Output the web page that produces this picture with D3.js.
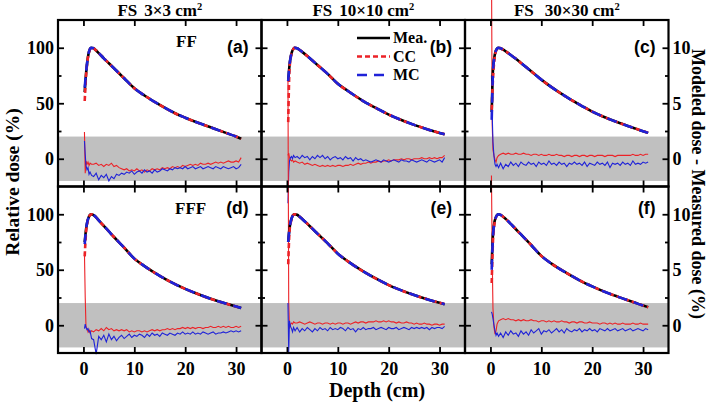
<!DOCTYPE html>
<html><head><meta charset="utf-8">
<script src="https://cdn.jsdelivr.net/npm/d3@7"></script>
<style>
body{margin:0;background:#fff}
svg{display:block}
text{font-family:"Liberation Serif","Times New Roman",serif;font-weight:bold;fill:#000}
</style>
</head><body>
<svg id="chart" width="709" height="404"></svg>
<script>
// ---------- data ----------
const fieldSizes = ["3×3", "10×10", "30×30"];
const beamTypes = ["FF", "FFF"];
const panelLabels = ["(a)", "(b)", "(c)", "(d)", "(e)", "(f)"];
const legendNames = ["Mea.", "CC", "MC"];
const xTicks = [0, 10, 20, 30];
const yTicks = [0, 50, 100];
const yMinorTicks = [25, 75];
const diffTicks = [0, 5, 10];
const diffMinorTicks = [2.5, 7.5];

// depth dose curves (depth in cm, relative dose in %)
const pddDepth = [0.25, 0.5, 0.75, 1, 1.25, 1.5, 2, 2.5, 3, 4, 5, 6, 8, 10, 12, 15, 18, 20, 22, 25, 28, 30, 31];

const meaA = [60, 76, 87, 94.5, 98.5, 100, 99.5, 97.5, 95.2, 90.5, 86, 81.5, 72.5, 63.5, 57, 48.5, 41, 37, 33.3, 28.3, 23.3, 20, 18];
const ccA  = [52, 74, 86.5, 94, 98.3, 100, 99.5, 97.5, 95.2, 90.5, 86, 81.5, 72.5, 63.5, 57, 48.5, 41, 37, 33.3, 28.3, 23.3, 20, 18];
const mcA  = [64, 77, 87.5, 94.8, 98.6, 100, 99.5, 97.5, 95.2, 90.5, 86, 81.5, 72.5, 63.5, 57, 48.5, 41, 37, 33.3, 28.3, 23.3, 20, 18];

const meaB = [70, 84, 92, 96.5, 99, 100, 99.5, 98, 96.3, 92.5, 88.5, 84.5, 76.5, 67.5, 61, 52, 44.5, 39.8, 35.8, 30.5, 26, 23.3, 22];
const ccB  = [33, 80, 91, 96, 98.8, 100, 99.5, 98, 96.3, 92.5, 88.5, 84.5, 76.5, 67.5, 61, 52, 44.5, 39.8, 35.8, 30.5, 26, 23.3, 22];
const mcB  = [70, 84.5, 92, 96.5, 99, 100, 99.5, 98, 96.3, 92.5, 88.5, 84.5, 76.5, 67.5, 61, 52, 44.5, 39.8, 35.8, 30.5, 26, 23.3, 22];

const meaC = [42, 80, 91, 96.5, 99, 100, 99.5, 98.3, 96.8, 93.5, 90, 86.3, 78.8, 71.3, 64.5, 55.5, 47.5, 42.5, 38.3, 32.8, 28, 24.8, 23.3];
const ccC  = [44, 72, 88, 95.5, 98.7, 100, 99.5, 98.3, 96.8, 93.5, 90, 86.3, 78.8, 71.3, 64.5, 55.5, 47.5, 42.5, 38.3, 32.8, 28, 24.8, 23.3];
const mcC  = [35, 78, 90.5, 96.3, 99, 100, 99.5, 98.3, 96.8, 93.5, 90, 86.3, 78.8, 71.3, 64.5, 55.5, 47.5, 42.5, 38.3, 32.8, 28, 24.8, 23.3];

const meaD = [75, 86, 93, 97, 99.2, 100, 99.3, 97.2, 94.5, 89.5, 84.5, 79.5, 70, 60, 53.3, 44.5, 37, 32.8, 29, 23.8, 19.5, 16.8, 15.5];
const ccD  = [62, 83, 92, 96.7, 99, 100, 99.3, 97.2, 94.5, 89.5, 84.5, 79.5, 70, 60, 53.3, 44.5, 37, 32.8, 29, 23.8, 19.5, 16.8, 15.5];
const mcD  = [73, 86, 93, 97, 99.2, 100, 99.3, 97.2, 94.5, 89.5, 84.5, 79.5, 70, 60, 53.3, 44.5, 37, 32.8, 29, 23.8, 19.5, 16.8, 15.5];

const meaE = [75, 87, 93.5, 97.3, 99.4, 100, 99.5, 97.8, 95.8, 91.5, 87, 82.6, 73.8, 64.5, 57.5, 48.5, 40.8, 36.2, 32.3, 27.2, 22.8, 20.2, 19];
const ccE  = [55, 84, 92.5, 97, 99.3, 100, 99.5, 97.8, 95.8, 91.5, 87, 82.6, 73.8, 64.5, 57.5, 48.5, 40.8, 36.2, 32.3, 27.2, 22.8, 20.2, 19];
const mcE  = [75, 87, 93.5, 97.3, 99.4, 100, 99.5, 97.8, 95.8, 91.5, 87, 82.6, 73.8, 64.5, 57.5, 48.5, 40.8, 36.2, 32.3, 27.2, 22.8, 20.2, 19];

const meaF = [55, 82, 92, 96.5, 99, 100, 99.4, 97.8, 95.8, 91.3, 86.5, 81.8, 72.3, 62.5, 55.5, 47, 39.3, 35, 31, 25.8, 21, 17.8, 16.3];
const ccF  = [38, 76, 90, 96, 98.8, 100, 99.4, 97.8, 95.8, 91.3, 86.5, 81.8, 72.3, 62.5, 55.5, 47, 39.3, 35, 31, 25.8, 21, 17.8, 16.3];
const mcF  = [50, 80, 91.5, 96.3, 99, 100, 99.4, 97.8, 95.8, 91.3, 86.5, 81.8, 72.3, 62.5, 55.5, 47, 39.3, 35, 31, 25.8, 21, 17.8, 16.3];

// modeled - measured dose differences (%)
const diffDepth = [0.2, 0.35, 0.5, 0.7, 0.9, 1.1, 1.3, 1.6,
  2, 2.5, 3, 3.5, 4, 4.5, 5, 5.5, 6, 6.5,
  7, 7.5, 8, 8.5, 9, 9.5, 10, 10.5, 11, 11.5,
  12, 12.5, 13, 13.5, 14, 14.5, 15, 15.5, 16, 16.5,
  17, 17.5, 18, 18.5, 19, 19.5, 20, 20.5, 21, 21.5,
  22, 22.5, 23, 23.5, 24, 24.5, 25, 25.5, 26, 26.5,
  27, 27.5, 28, 28.5, 29, 29.5, 30, 30.5, 31];

const ccDiffA = [2.4, -1.3, -0.2, -0.5, -0.3, -0.6, -0.4, -0.5,
  -0.5, -0.4, -0.6, -0.5, -0.7, -0.5, -0.6, -0.4, -0.7, -0.6,
  -0.8, -0.9, -1.0, -0.9, -1.1, -1.0, -1.1, -0.9, -1.1, -1.0,
  -1.2, -1.0, -1.1, -0.9, -1.0, -0.9, -1.0, -0.8, -0.9, -0.8,
  -0.9, -0.7, -0.8, -0.7, -0.8, -0.6, -0.7, -0.6, -0.5, -0.6,
  -0.5, -0.6, -0.4, -0.5, -0.5, -0.4, -0.5, -0.4, -0.3, -0.4,
  -0.3, -0.4, -0.3, -0.2, -0.3, -0.3, -0.2, -0.3, 0.1];
const mcDiffA = [1.6, 0.4, -0.6, -1.0, -0.8, -1.4, -1.2, -1.5,
  -1.6, -1.3, -1.9, -1.5, -1.7, -1.4, -2.0, -1.6, -1.8, -1.4,
  -1.5, -1.3, -1.4, -1.2, -1.3, -1.1, -1.4, -1.2, -1.1, -1.3,
  -1.0, -1.2, -1.1, -1.3, -1.0, -1.2, -1.1, -0.9, -1.0, -1.1,
  -0.9, -1.0, -0.8, -0.9, -0.8, -0.9, -0.7, -0.9, -0.8, -0.7,
  -0.9, -0.8, -0.7, -0.9, -0.8, -0.7, -0.8, -0.9, -0.7, -0.8,
  -0.9, -0.7, -0.8, -0.9, -0.8, -0.7, -0.9, -0.8, -0.5];

const ccDiffB = [0.3, 0.5, 0.1, -0.1, -0.2, -0.1, -0.3, -0.2,
  -0.3, -0.4, -0.3, -0.5, -0.4, -0.5, -0.6, -0.5, -0.6, -0.7,
  -0.6, -0.7, -0.6, -0.7, -0.6, -0.7, -0.6, -0.6, -0.7, -0.6,
  -0.6, -0.5, -0.6, -0.5, -0.4, -0.5, -0.4, -0.4, -0.3, -0.4,
  -0.3, -0.3, -0.2, -0.3, -0.2, -0.2, -0.1, -0.2, -0.1, -0.1,
  -0.1, 0.0, -0.1, 0.0, 0.0, -0.1, 0.0, 0.0, 0.0, 0.1,
  0.0, 0.0, 0.1, 0.0, 0.1, 0.0, 0.1, 0.1, 0.3];
const mcDiffB = [-4.0, -1.2, -0.2, 0.1, 0.2, 0.0, 0.3, 0.1,
  0.2, 0.0, 0.3, 0.1, 0.2, -0.1, 0.2, 0.0, 0.3, 0.1,
  0.3, 0.0, 0.2, -0.1, 0.1, 0.2, 0.0, 0.1, -0.1, 0.2,
  0.0, 0.1, -0.2, 0.1, -0.1, 0.0, -0.2, -0.1, -0.2, -0.3,
  -0.2, -0.1, -0.2, -0.3, -0.1, -0.2, -0.3, -0.2, -0.1, -0.2,
  -0.3, -0.1, -0.2, -0.2, -0.3, -0.1, -0.2, -0.3, -0.2, -0.1,
  -0.2, -0.3, -0.1, -0.2, -0.3, -0.2, -0.1, -0.3, 0.1];

const ccDiffC = [18, 3.0, 0.8, 0.3, -0.1, -0.3, 0.1, 0.3,
  0.4, 0.5, 0.4, 0.5, 0.4, 0.4, 0.5, 0.4, 0.4, 0.5,
  0.4, 0.4, 0.3, 0.4, 0.4, 0.3, 0.4, 0.3, 0.3, 0.4,
  0.3, 0.3, 0.4, 0.3, 0.3, 0.2, 0.3, 0.3, 0.2, 0.3,
  0.3, 0.2, 0.3, 0.3, 0.2, 0.3, 0.3, 0.2, 0.3, 0.3,
  0.3, 0.2, 0.3, 0.3, 0.3, 0.2, 0.3, 0.3, 0.3, 0.3,
  0.3, 0.3, 0.4, 0.3, 0.3, 0.4, 0.3, 0.4, 0.4];
const mcDiffC = [7.5, 4.0, 1.5, 0.2, -0.5, -0.7, -0.5, -0.8,
  -0.4, -0.9, -0.5, -0.7, -0.3, -0.6, -0.4, -0.7, -0.3, -0.5,
  -0.6, -0.3, -0.5, -0.4, -0.7, -0.3, -0.5, -0.4, -0.6, -0.2,
  -0.5, -0.4, -0.6, -0.3, -0.5, -0.4, -0.7, -0.4, -0.5, -0.3,
  -0.5, -0.4, -0.6, -0.3, -0.7, -0.4, -0.5, -0.6, -0.3, -0.5,
  -0.4, -0.6, -0.3, -0.8, -0.4, -0.5, -0.4, -0.6, -0.3, -0.5,
  -0.4, -0.6, -0.2, -0.5, -0.4, -0.5, -0.3, -0.4, -0.3];

const ccDiffD = [6.5, 2.5, -0.1, -0.3, -0.6, -0.4, -0.7, -0.5,
  -0.6, -0.4, -0.5, -0.3, -0.5, -0.2, -0.4, -0.3, -0.5, -0.4,
  -0.5, -0.4, -0.5, -0.4, -0.6, -0.5, -0.6, -0.5, -0.5, -0.6,
  -0.5, -0.6, -0.5, -0.4, -0.5, -0.4, -0.5, -0.4, -0.4, -0.3,
  -0.4, -0.3, -0.4, -0.3, -0.3, -0.2, -0.3, -0.2, -0.3, -0.2,
  -0.3, -0.2, -0.2, -0.3, -0.2, -0.2, -0.1, -0.2, -0.2, -0.1,
  -0.2, -0.1, -0.2, -0.1, -0.2, -0.2, -0.1, -0.2, -0.1];
const mcDiffD = [-0.3, 0.1, -0.2, -0.4, -0.3, -0.6, -0.5, -1.2,
  -1.3, -2.6, -1.0, -1.3, -0.9, -1.5, -0.8, -1.3, -1.0, -1.4,
  -1.1, -0.9, -1.2, -1.0, -0.8, -1.1, -0.9, -1.0, -0.8, -0.9,
  -1.1, -0.8, -1.0, -0.7, -0.9, -0.8, -1.0, -0.7, -0.8, -0.9,
  -0.7, -0.8, -0.9, -0.7, -0.8, -0.6, -0.8, -0.7, -0.8, -0.6,
  -0.8, -0.7, -0.8, -0.6, -0.7, -0.8, -0.7, -0.6, -0.8, -0.7,
  -0.7, -0.6, -0.7, -0.6, -0.5, -0.6, -0.5, -0.6, -0.5];

const ccDiffE = [22, 2.0, -0.3, 0.1, 0.2, 0.1, 0.3, 0.2,
  0.2, 0.3, 0.2, 0.1, 0.2, 0.3, 0.2, 0.1, 0.2, 0.2,
  0.1, 0.2, 0.2, 0.1, 0.2, 0.1, 0.2, 0.2, 0.1, 0.2,
  0.2, 0.1, 0.2, 0.3, 0.2, 0.3, 0.3, 0.2, 0.3, 0.3,
  0.3, 0.4, 0.3, 0.3, 0.4, 0.3, 0.4, 0.3, 0.3, 0.2,
  0.3, 0.2, 0.2, 0.3, 0.2, 0.2, 0.1, 0.2, 0.1, 0.1,
  0.2, 0.1, 0.1, 0.0, 0.1, 0.1, 0.0, 0.1, 0.1];
const mcDiffE = [2.0, -2.4, 0.4, -0.1, -0.3, -0.6, -0.2, -0.5,
  -0.2, -0.6, -0.3, -0.5, -0.2, -0.4, -0.6, -0.3, -0.5, -0.2,
  -0.4, -0.3, -0.5, -0.2, -0.4, -0.3, -0.4, -0.2, -0.3, -0.5,
  -0.2, -0.4, -0.3, -0.6, -0.3, -0.4, -0.2, -0.4, -0.3, -0.3,
  -0.2, -0.4, -0.3, -0.2, -0.3, -0.4, -0.2, -0.3, -0.3, -0.2,
  -0.4, -0.3, -0.2, -0.3, -0.4, -0.2, -0.3, -0.2, -0.3, -0.2,
  -0.3, -0.2, -0.4, -0.2, -0.3, -0.2, -0.2, -0.3, -0.1];

const ccDiffF = [13.5, 6.0, 1.5, -0.2, -0.8, -0.5, 0.1, 0.4,
  0.5, 0.6, 0.5, 0.6, 0.5, 0.5, 0.4, 0.5, 0.4, 0.5,
  0.4, 0.4, 0.5, 0.4, 0.4, 0.3, 0.4, 0.4, 0.3, 0.4,
  0.3, 0.4, 0.3, 0.3, 0.4, 0.3, 0.3, 0.2, 0.3, 0.3,
  0.2, 0.3, 0.3, 0.2, 0.2, 0.3, 0.2, 0.2, 0.2, 0.1,
  0.2, 0.2, 0.1, 0.2, 0.1, 0.2, 0.1, 0.1, 0.2, 0.1,
  0.1, 0.1, 0.2, 0.1, 0.1, 0.2, 0.1, 0.1, 0.1];
const mcDiffF = [1.2, 1.0, 0.6, 0.0, -0.5, -0.9, -0.7, -1.0,
  -0.7, -1.1, -0.6, -0.9, -0.5, -0.8, -0.7, -1.0, -0.5, -0.8,
  -0.6, -0.9, -0.4, -0.7, -0.5, -0.3, -0.8, -0.5, -0.6, -0.4,
  -0.7, -0.5, -0.3, -0.6, -0.4, -0.7, -0.3, -0.5, -0.6, -0.4,
  -0.5, -0.3, -0.6, -0.4, -0.5, -0.3, -0.5, -0.4, -0.6, -0.3,
  -0.4, -0.5, -0.3, -0.5, -0.4, -0.3, -0.5, -0.4, -0.3, -0.5,
  -0.4, -0.3, -0.5, -0.4, -0.3, -0.4, -0.5, -0.3, -0.4];

// ---------- layout ----------
const colLeft = [58, 261.5, 465];
const rowTop = [20, 186.5];
const pw = 203.5, ph = 166.5;
const RED = "#ec2227", BLUE = "#1f22d8";
const SERIF = '"Liberation Serif","Times New Roman",serif';

const panels = [
  {r:0,c:0,mea:meaA,cc:ccA,mc:mcA,ccd:ccDiffA,mcd:mcDiffA},
  {r:0,c:1,mea:meaB,cc:ccB,mc:mcB,ccd:ccDiffB,mcd:mcDiffB},
  {r:0,c:2,mea:meaC,cc:ccC,mc:mcC,ccd:ccDiffC,mcd:mcDiffC},
  {r:1,c:0,mea:meaD,cc:ccD,mc:mcD,ccd:ccDiffD,mcd:mcDiffD},
  {r:1,c:1,mea:meaE,cc:ccE,mc:mcE,ccd:ccDiffE,mcd:mcDiffE},
  {r:1,c:2,mea:meaF,cc:ccF,mc:mcF,ccd:ccDiffF,mcd:mcDiffF}
];
panels.forEach((p,i)=>{
  p.label = panelLabels[i];
  p.x = d3.scaleLinear().domain([-5,35]).range([colLeft[p.c], colLeft[p.c]+pw]);
  p.y = d3.scaleLinear().domain([-25,125]).range([rowTop[p.r]+ph, rowTop[p.r]]);
  p.yd = d3.scaleLinear().domain([-2.5,12.5]).range([rowTop[p.r]+ph, rowTop[p.r]]);
});

const svg = d3.select("#chart");
const gBand = svg.append("g"), gDiff = svg.append("g"), gPdd = svg.append("g"), gAxes = svg.append("g");

panels.forEach(p=>{
  gBand.append("rect")
    .attr("x", p.x.range()[0]).attr("width", pw)
    .attr("y", p.yd(2)).attr("height", p.yd(-2)-p.yd(2))
    .attr("fill", "#c0c0c0");

  const dl = d3.line().x((d,i)=>p.x(diffDepth[i])).y(d=>p.yd(d));
  gDiff.append("path").attr("d", dl(p.ccd)).attr("fill","none").attr("stroke",RED).attr("stroke-width",1.1);
  gDiff.append("path").attr("d", dl(p.mcd)).attr("fill","none").attr("stroke",BLUE).attr("stroke-width",1.1);

  const pl = d3.line().x((d,i)=>p.x(pddDepth[i])).y(d=>p.y(d)).curve(d3.curveMonotoneX);
  gPdd.append("path").attr("d", pl(p.mea)).attr("fill","none").attr("stroke","#000").attr("stroke-width",2.6);
  gPdd.append("path").attr("d", pl(p.cc)).attr("fill","none").attr("stroke",RED).attr("stroke-width",2.6).attr("stroke-dasharray","5,3");
  gPdd.append("path").attr("d", pl(p.mc)).attr("fill","none").attr("stroke",BLUE).attr("stroke-width",2.6).attr("stroke-dasharray","10,7");

  const L = p.x.range()[0], R = p.x.range()[1], T = p.y.range()[1], B = p.y.range()[0];
  const styleAxis = g => { g.select(".domain").remove(); g.selectAll("line").attr("stroke","#000").attr("stroke-width",1.8);
    g.selectAll("text").attr("font-family",SERIF).attr("font-weight","bold").attr("font-size",18).attr("fill","#000"); };

  gAxes.append("g").attr("transform",`translate(${L},0)`)
    .call(d3.axisLeft(p.y).tickValues(yTicks).tickSizeInner(-6).tickSizeOuter(0).tickPadding(4)
      .tickFormat(p.c===0 ? d3.format("d") : ()=>"")).call(styleAxis);
  gAxes.append("g").attr("transform",`translate(${L},0)`)
    .call(d3.axisLeft(p.y).tickValues(yMinorTicks).tickSizeInner(-3.5).tickSizeOuter(0).tickFormat(()=>"")).call(styleAxis);
  gAxes.append("g").attr("transform",`translate(${R},0)`)
    .call(d3.axisRight(p.yd).tickValues(diffTicks).tickSizeInner(-6).tickSizeOuter(0).tickPadding(4)
      .tickFormat(p.c===2 ? d3.format("d") : ()=>"")).call(styleAxis);
  gAxes.append("g").attr("transform",`translate(${R},0)`)
    .call(d3.axisRight(p.yd).tickValues(diffMinorTicks).tickSizeInner(-3.5).tickSizeOuter(0).tickFormat(()=>"")).call(styleAxis);
  gAxes.append("g").attr("transform",`translate(0,${B})`)
    .call(d3.axisBottom(p.x).tickValues(xTicks).tickSizeInner(-6).tickSizeOuter(0).tickPadding(9)
      .tickFormat(p.r===1 ? d3.format("d") : ()=>"")).call(styleAxis);
  gAxes.append("g").attr("transform",`translate(0,${T})`)
    .call(d3.axisTop(p.x).tickValues(xTicks).tickSizeInner(-6).tickSizeOuter(0).tickFormat(()=>"")).call(styleAxis);

  gAxes.append("rect").attr("x",L).attr("y",T).attr("width",pw).attr("height",ph)
    .attr("fill","none").attr("stroke","#000").attr("stroke-width",2.2);

  gAxes.append("text").attr("x", R-13).attr("y", p.r===0 ? T+33 : T+27.5)
    .attr("text-anchor","end").attr("font-size",17.5)
    .style("font-family",'"Liberation Sans",Arial,sans-serif').text(p.label);
});

gAxes.append("text").attr("x",176).attr("y",46.5).attr("font-size",17).text(beamTypes[0]);
gAxes.append("text").attr("x",175).attr("y",214).attr("font-size",17).text(beamTypes[1]);

fieldSizes.forEach((fs,c)=>{
  const t = svg.append("text").attr("x", colLeft[c]+pw/2).attr("y",16).attr("text-anchor","middle").attr("font-size",17);
  t.append("tspan").text("FS");
  t.append("tspan").attr("dx", c===2 ? 11 : 7).text(fs + " cm");
  t.append("tspan").attr("dy",-6).attr("font-size",10.5).text("2");
});

const legY = [38, 56.5, 75];
const legStyles = [
  {stroke:"#000", dash:null},
  {stroke:RED, dash:"5,3"},
  {stroke:BLUE, dash:"10,7"}
];
legendNames.forEach((n,i)=>{
  svg.append("line").attr("x1",357).attr("x2",390).attr("y1",legY[i]).attr("y2",legY[i])
    .attr("stroke",legStyles[i].stroke).attr("stroke-width",2.4).attr("stroke-dasharray",legStyles[i].dash);
  svg.append("text").attr("x",393).attr("y",legY[i]+5).attr("font-size",16).text(n);
});

svg.append("text").attr("transform","translate(19,182) rotate(-90)").attr("text-anchor","middle")
  .attr("font-size",19.5).text("Relative dose (%)");
svg.append("text").attr("transform","translate(692,184) rotate(90)").attr("text-anchor","middle")
  .attr("font-size",18).text("Modeled dose - Measured dose (%)");
svg.append("text").attr("x",377).attr("y",397).attr("text-anchor","middle")
  .attr("font-size",20).text("Depth (cm)");
</script>
</body></html>
